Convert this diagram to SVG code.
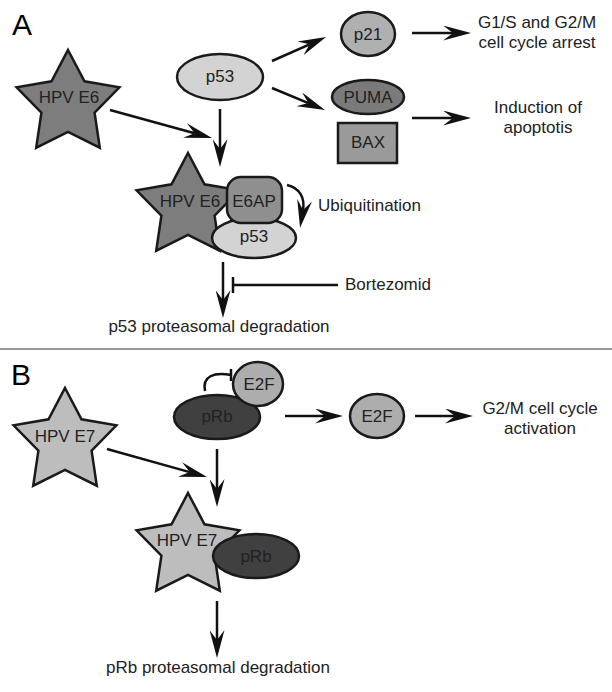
<svg xmlns="http://www.w3.org/2000/svg" xmlns:xlink="http://www.w3.org/1999/xlink" width="612" height="692" viewBox="0 0 612 692">
<style>
text{font-family:"Liberation Sans",Arial,sans-serif;font-size:17px;fill:#222;}
.c{text-anchor:middle;}
.lbl{font-size:30px;fill:#000;}
.sh{stroke:#1a1a1a;stroke-width:2.5;stroke-linejoin:miter;}
.ln{fill:none;stroke:#111;stroke-width:2.5;}
.arr{marker-end:url(#ah);}
</style>
<defs>
<marker id="ah" viewBox="0 0 28 15" refX="10" refY="7.5" markerWidth="28" markerHeight="15" markerUnits="userSpaceOnUse" orient="auto">
<path d="M0,0 L28,7.5 L0,15 L10,7.5 Z" fill="#111"/>
</marker>
<path id="star" d="M0,-54 L16.5,-22.7 L51.4,-16.7 L26.6,8.7 L31.8,43.7 L0,28 L-31.8,43.7 L-26.6,8.7 L-51.4,-16.7 L-16.5,-22.7 Z"/>
</defs>
<rect width="612" height="692" fill="#fff"/>
<text class="lbl" x="12" y="35">A</text>
<text class="lbl" x="11" y="385">B</text>
<line x1="0" y1="349" x2="612" y2="349" stroke="#777" stroke-width="1.5"/>

<g id="connectors">
<path class="ln arr" d="M272,61 L309.6,44.3"/>
<path class="ln arr" d="M272,88 L308.4,103.1"/>
<path class="ln arr" d="M412,33 L453,33"/>
<path class="ln arr" d="M412,118 L453,118"/>
<path class="ln arr" d="M110,110 L194.6,133.2"/>
<path class="ln arr" d="M220,109 L220,149"/>
<path class="ln arr" d="M287,185 C300,188 305,198 303,210"/>
<path class="ln arr" d="M223,262 L223,300"/>
<path class="ln" d="M338,285 L233,285 M233,277 L233,293"/>
<path class="ln arr" d="M107,449 L189.7,472.1"/>
<path class="ln arr" d="M217,449 L217,489"/>
<path class="ln arr" d="M285,416 L325,416"/>
<path class="ln arr" d="M415,416 L455,416"/>
<path class="ln" d="M205,391 C202,376 214,372 231,375 M231,369 L231,381"/>
<path class="ln arr" d="M217,601 L217,640"/>
</g>

<g id="hpv-e6">
<use xlink:href="#star" href="#star" class="sh" fill="#7d7d7d" transform="translate(68,104)"/>
<text class="c" x="69" y="103">HPV E6</text>
</g>
<g id="p53">
<ellipse cx="220" cy="77" rx="43" ry="23" class="sh" fill="#d3d3d3"/>
<text class="c" x="220" y="82">p53</text>
</g>
<g id="p21">
<ellipse cx="368" cy="34" rx="27" ry="22" class="sh" fill="#b0b0b0"/>
<text class="c" x="368" y="40">p21</text>
</g>
<g id="puma">
<ellipse cx="368" cy="97" rx="36" ry="17" class="sh" fill="#7a7a7a"/>
<text class="c" x="368" y="103">PUMA</text>
</g>
<g id="bax">
<rect x="338" y="123" width="59" height="40" class="sh" fill="#9a9a9a"/>
<text class="c" x="368" y="148">BAX</text>
</g>
<g id="arrest-text">
<text class="c" x="537" y="28">G1/S and G2/M</text>
<text class="c" x="537" y="48">cell cycle arrest</text>
</g>
<g id="apoptosis-text">
<text class="c" x="538" y="113">Induction of</text>
<text class="c" x="538" y="133">apoptotis</text>
</g>
<g id="complex-e6">
<use xlink:href="#star" href="#star" class="sh" fill="#7d7d7d" transform="translate(188,207)"/>
<text class="c" x="190" y="207">HPV E6</text>
<ellipse cx="254" cy="238" rx="42" ry="20" class="sh" fill="#d3d3d3"/>
<text class="c" x="254" y="242">p53</text>
<rect x="227" y="177" width="55" height="46" rx="14" ry="14" class="sh" fill="#8f8f8f"/>
<text class="c" x="254" y="207">E6AP</text>
</g>
<g id="ubiquitination">
<text x="318" y="211">Ubiquitination</text>
</g>
<g id="bortezomid">
<text x="345" y="290">Bortezomid</text>
</g>
<g id="p53-degradation">
<text class="c" x="219" y="332">p53 proteasomal degradation</text>
</g>

<g id="hpv-e7">
<use xlink:href="#star" href="#star" class="sh" fill="#bdbdbd" transform="translate(65,442)"/>
<text class="c" x="65" y="442">HPV E7</text>
</g>
<g id="prb-e2f">
<ellipse cx="217" cy="417" rx="43" ry="22" class="sh" fill="#404040"/>
<text class="c" x="217" y="422">pRb</text>
<ellipse cx="258" cy="384" rx="25" ry="22" class="sh" fill="#adadad"/>
<text class="c" x="259" y="390">E2F</text>
</g>
<g id="e2f">
<ellipse cx="377" cy="416" rx="27" ry="22" class="sh" fill="#adadad"/>
<text class="c" x="377" y="422">E2F</text>
</g>
<g id="activation-text">
<text class="c" x="540" y="414">G2/M cell cycle</text>
<text class="c" x="540" y="434">activation</text>
</g>
<g id="complex-e7">
<use xlink:href="#star" href="#star" class="sh" fill="#bdbdbd" transform="translate(188,547)"/>
<text class="c" x="187" y="546">HPV E7</text>
<ellipse cx="256" cy="556" rx="43" ry="22" class="sh" fill="#404040"/>
<text class="c" x="256" y="562">pRb</text>
</g>
<g id="prb-degradation">
<text class="c" x="218" y="673">pRb proteasomal degradation</text>
</g>
</svg>
